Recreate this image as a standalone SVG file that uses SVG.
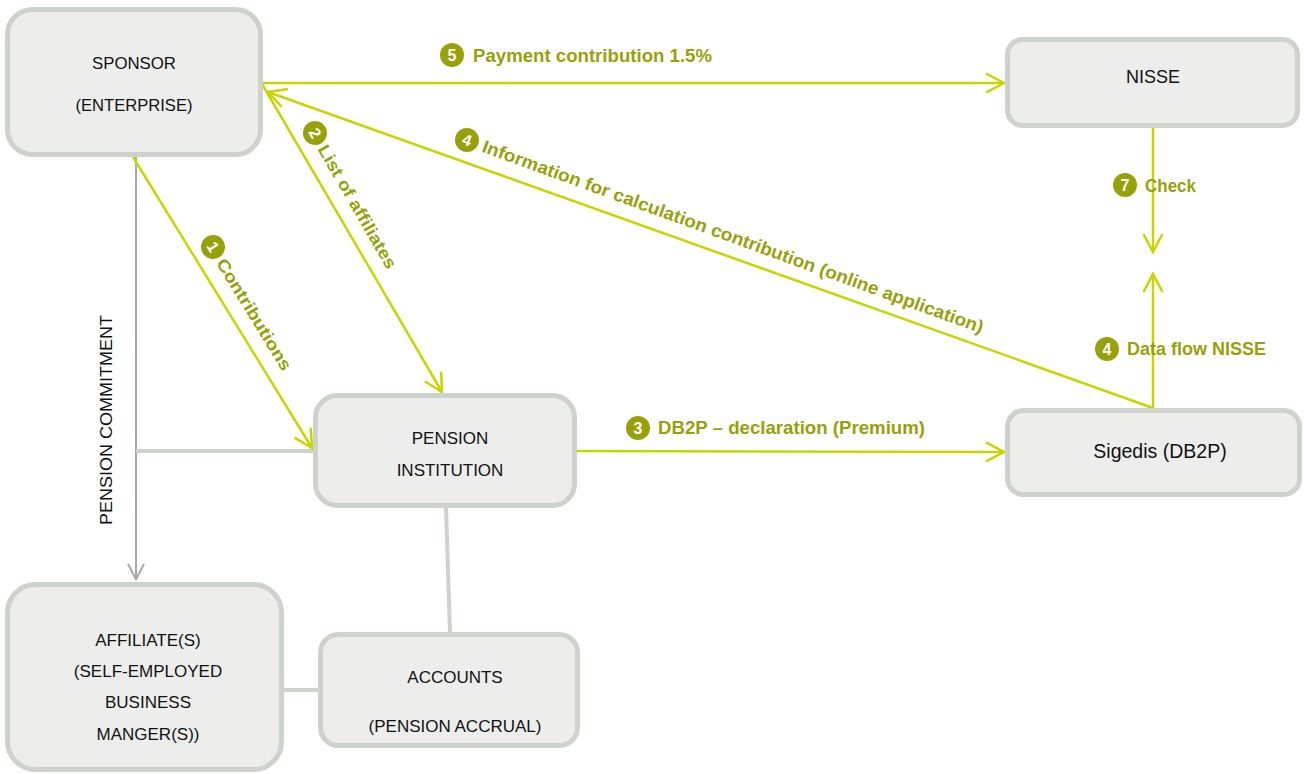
<svg xmlns="http://www.w3.org/2000/svg" width="1304" height="774" viewBox="0 0 1304 774">
<style>
.box{fill:#EDEEEC;stroke:#CED2CD;stroke-width:5}
.nt{font-family:"Liberation Sans",Arial,sans-serif;font-size:17px;fill:#111;text-anchor:middle}
.flow{fill:none;stroke:#C9D400;stroke-width:2.5}
.grey{fill:none;stroke:#CED2CD;stroke-width:4}
.lbl{font-family:"Liberation Sans",Arial,sans-serif;font-size:18px;font-weight:bold;fill:#98A10A}
.lblr{font-family:"Liberation Sans",Arial,sans-serif;font-size:17px;font-weight:bold;fill:#98A10A}
.num{fill:#98A10A}
.nn{font-family:"Liberation Sans",Arial,sans-serif;font-size:16px;font-weight:bold;fill:#fff;text-anchor:middle}
</style>
<defs>
<marker id="ah" markerUnits="userSpaceOnUse" markerWidth="30" markerHeight="30" viewBox="-25 -15 30 30" refX="0" refY="0" orient="auto" overflow="visible">
<path d="M-18,-9.5 L0,0 L-18,9.5" fill="none" stroke="#C9D400" stroke-width="2.5"/>
</marker>
<marker id="ahg" markerUnits="userSpaceOnUse" markerWidth="30" markerHeight="30" viewBox="-25 -15 30 30" refX="0" refY="0" orient="auto" overflow="visible">
<path d="M-15,-8 L0,0 L-15,8" fill="none" stroke="#A6A9A6" stroke-width="2"/>
</marker>
</defs>

<g id="connectors">
<line x1="136" y1="157" x2="136" y2="579" stroke="#A6A9A6" stroke-width="2" marker-end="url(#ahg)"/>
<line class="grey" x1="136" y1="451" x2="314" y2="451"/>
<line class="grey" x1="446" y1="507" x2="450" y2="633"/>
<line class="grey" x1="281" y1="690" x2="319" y2="690"/>
<line class="flow" x1="262" y1="83" x2="1004" y2="83" marker-end="url(#ah)"/>
<line class="flow" x1="1153" y1="408" x2="268" y2="92" marker-end="url(#ah)"/>
<line class="flow" x1="262" y1="84" x2="442" y2="392" marker-end="url(#ah)"/>
<line class="flow" x1="133" y1="157" x2="312" y2="448" marker-end="url(#ah)"/>
<line class="flow" x1="576" y1="451" x2="1004" y2="452" marker-end="url(#ah)"/>
<line class="flow" x1="1153" y1="127" x2="1153" y2="252" marker-end="url(#ah)"/>
<line class="flow" x1="1153" y1="408" x2="1153" y2="274" marker-end="url(#ah)"/>
</g>

<g id="labels">
<circle class="num" cx="452" cy="55" r="12"/><text class="nn" x="452" y="60.5">5</text>
<text class="lbl" x="473" y="62" textLength="239" lengthAdjust="spacingAndGlyphs">Payment contribution 1.5%</text>
<circle class="num" cx="638" cy="428" r="12"/><text class="nn" x="638" y="433.5">3</text>
<text class="lbl" x="658" y="434" textLength="267" lengthAdjust="spacingAndGlyphs">DB2P – declaration (Premium)</text>
<circle class="num" cx="1125" cy="185" r="12"/><text class="nn" x="1125" y="190.5">7</text>
<text class="lbl" x="1145" y="192" textLength="51" lengthAdjust="spacingAndGlyphs">Check</text>
<circle class="num" cx="1107" cy="349" r="12"/><text class="nn" x="1107" y="354.5">4</text>
<text class="lbl" x="1127" y="355" textLength="139" lengthAdjust="spacingAndGlyphs">Data flow NISSE</text>
<g transform="translate(467,140) rotate(20)">
<circle class="num" cx="0" cy="0" r="12"/><text class="nn" x="0" y="5.5">4</text>
<text class="lbl" x="17" y="6" textLength="532" lengthAdjust="spacingAndGlyphs">Information for calculation contribution (online application)</text>
</g>
<g transform="translate(315,133) rotate(60)">
<circle class="num" cx="0" cy="0" r="12"/><text class="nn" x="0" y="5.5">2</text>
<text class="lblr" x="15" y="6" textLength="140" lengthAdjust="spacingAndGlyphs">List of affiliates</text>
</g>
<g transform="translate(213,247) rotate(58.5)">
<circle class="num" cx="0" cy="0" r="12"/><text class="nn" x="0" y="5.5">1</text>
<text class="lblr" x="15" y="6" textLength="128" lengthAdjust="spacingAndGlyphs">Contributions</text>
</g>
<text class="nt" transform="translate(112,420) rotate(-90)" textLength="210" lengthAdjust="spacingAndGlyphs">PENSION COMMITMENT</text>
</g>

<g id="sponsor">
<rect class="box" x="7.5" y="9.5" width="253" height="145" rx="25"/>
<text class="nt" x="134" y="69" textLength="84" lengthAdjust="spacingAndGlyphs">SPONSOR</text>
<text class="nt" x="134" y="111" textLength="117" lengthAdjust="spacingAndGlyphs">(ENTERPRISE)</text>
</g>
<g id="nisse">
<rect class="box" x="1007.5" y="39.5" width="290" height="86" rx="15"/>
<text class="nt" x="1153" y="83" style="font-size:18px">NISSE</text>
</g>
<g id="pension-institution">
<rect class="box" x="315.5" y="395.5" width="259" height="110" rx="22"/>
<text class="nt" x="450" y="444">PENSION</text>
<text class="nt" x="450" y="476">INSTITUTION</text>
</g>
<g id="sigedis">
<rect class="box" x="1007.5" y="410.5" width="292" height="84" rx="16"/>
<text class="nt" x="1160" y="458" style="font-size:19.5px">Sigedis (DB2P)</text>
</g>
<g id="affiliates">
<rect class="box" x="7.5" y="584.5" width="274" height="185" rx="28"/>
<text class="nt" x="148" y="646">AFFILIATE(S)</text>
<text class="nt" x="148" y="677">(SELF-EMPLOYED</text>
<text class="nt" x="148" y="708">BUSINESS</text>
<text class="nt" x="148" y="740">MANGER(S))</text>
</g>
<g id="accounts">
<rect class="box" x="320.5" y="634.5" width="257" height="111" rx="18"/>
<text class="nt" x="455" y="683">ACCOUNTS</text>
<text class="nt" x="455" y="732">(PENSION ACCRUAL)</text>
</g>
</svg>
